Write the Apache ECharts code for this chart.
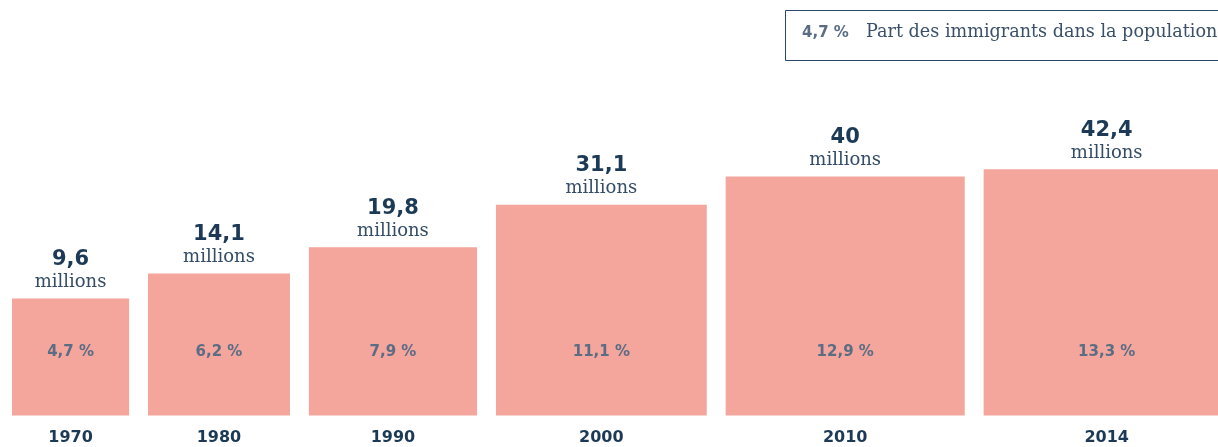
<!DOCTYPE html>
<html>
<head>
<meta charset="utf-8">
<script src="https://cdn.jsdelivr.net/npm/echarts@6/dist/echarts.min.js"></script>
<style>
  html, body { margin: 0; padding: 0; background: #fff; }
  #main { width: 1218px; height: 447px; }
</style>
</head>
<body>
<div id="main"></div>
<script>
// Immigrants aux Etats-Unis (millions) et part dans la population (%)
var years = ['1970', '1980', '1990', '2000', '2010', '2014'];
var immigrants = [9.6, 14.1, 19.8, 31.1, 40, 42.4];
var shares = [4.7, 6.2, 7.9, 11.1, 12.9, 13.3];

var NAVY = '#1c3a56';
var GREY = '#5a6d85';
var SALMON = '#f4a59c';
var GAP = 0.5; // gap between squares, in sqrt-units

function fr(v) { return String(v).replace('.', ','); }

// squares: side = sqrt(value), laid one after another
var squares = [];
var x = 0;
for (var i = 0; i < immigrants.length; i++) {
  var side = Math.sqrt(immigrants[i]);
  squares.push([x, side, immigrants[i], shares[i], years[i]]);
  x += side + GAP;
}

var myChart = echarts.init(document.getElementById('main'));

var option = {
  backgroundColor: '#fff',
  animation: false,
  grid: { left: 12, bottom: 31.5, width: 1206, height: 302.4 },
  xAxis: { type: 'value', min: 0, max: 1206 / 37.8, show: false },
  yAxis: { type: 'value', min: 0, max: 8, show: false },
  graphic: [
    {
      type: 'rect',
      shape: { x: 785.5, y: 10.5, width: 460, height: 50 },
      style: { fill: 'none', stroke: '#2d4864', lineWidth: 1 }
    },
    {
      type: 'text', left: 802, top: 26,
      style: { text: '4,7 %', font: 'bold 15px "DejaVu Sans"', fill: GREY }
    },
    {
      type: 'text', left: 866, top: 23,
      style: { text: 'Part des immigrants dans la population', font: '17.6px "DejaVu Serif"', fill: '#3b5068' }
    }
  ],
  series: [{
    type: 'custom',
    clip: false,
    data: squares,
    encode: { x: [0], y: [1] },
    renderItem: function (params, api) {
      var x0 = api.value(0), s = api.value(1);
      var p0 = api.coord([x0, 0]);
      var p1 = api.coord([x0 + s, s]);
      var cx = (p0[0] + p1[0]) / 2;
      return {
        type: 'group',
        children: [
          {
            type: 'rect',
            shape: { x: p0[0], y: p1[1], width: p1[0] - p0[0], height: p0[1] - p1[1] },
            style: { fill: SALMON }
          },
          {
            type: 'text',
            style: { text: fr(api.value(2)), x: cx, y: p1[1] - 39, align: 'center', verticalAlign: 'middle',
              font: 'bold 21px "DejaVu Sans"', fill: NAVY }
          },
          {
            type: 'text',
            style: { text: 'millions', x: cx, y: p1[1] - 16, align: 'center', verticalAlign: 'middle',
              font: '18px "DejaVu Serif"', fill: '#344c66' }
          },
          {
            type: 'text',
            style: { text: fr(api.value(3)) + ' %', x: cx, y: p0[1] - 63.5, align: 'center', verticalAlign: 'middle',
              font: 'bold 15px "DejaVu Sans"', fill: GREY }
          },
          {
            type: 'text',
            style: { text: api.value(4), x: cx, y: p0[1] + 22, align: 'center', verticalAlign: 'middle',
              font: 'bold 16px "DejaVu Sans"', fill: NAVY }
          }
        ]
      };
    }
  }]
};

myChart.setOption(option);
</script>
</body>
</html>
